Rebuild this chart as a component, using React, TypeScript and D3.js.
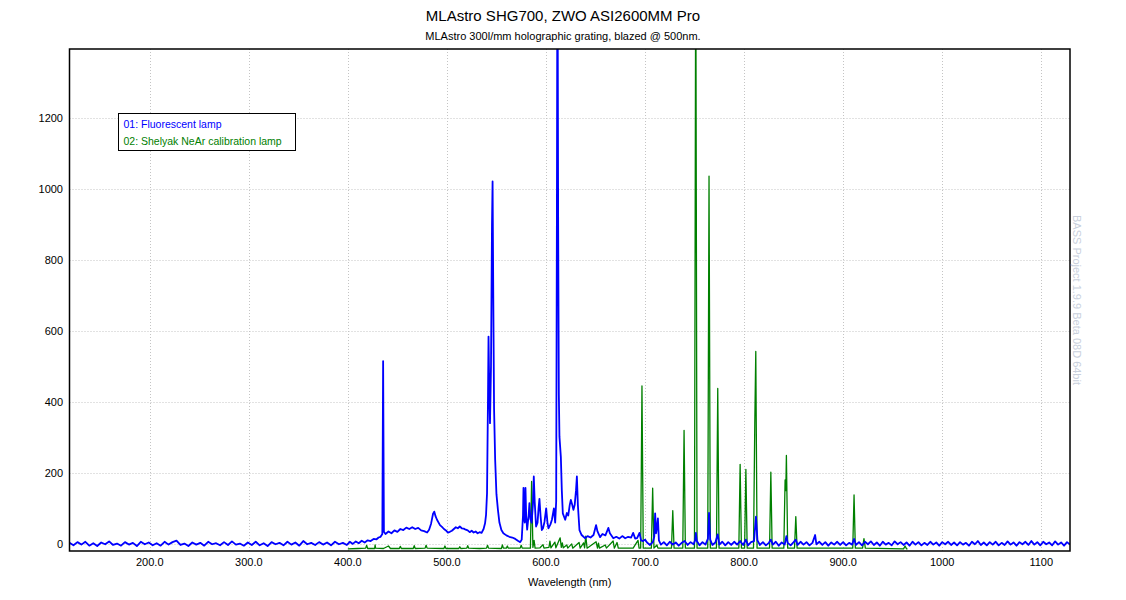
import React, { useEffect, useRef } from "react";
import * as d3 from "d3";

const chartTitle = "MLAstro SHG700, ZWO ASI2600MM Pro";
const chartSubtitle = "MLAstro 300l/mm holographic grating, blazed @ 500nm.";
const xAxisLabel = "Wavelength (nm)";
const watermarkText = "BASS Project 1.9.9 Beta 08D 64bit";
const seriesNames = ["01: Fluorescent lamp", "02: Shelyak NeAr calibration lamp"];
const seriesColors = ["#0000ff", "#008000"];

const xTicks = [200, 300, 400, 500, 600, 700, 800, 900, 1000, 1100];
const yTicks = [0, 200, 400, 600, 800, 1000, 1200];
const xDomain: [number, number] = [119, 1129];
const yDomain: [number, number] = [-20, 1394];

// 01: fluorescent lamp, [wavelength nm, intensity]
const fluorescent: [number, number][] = [
  [119, 3], [123, -4], [127, 5], [131, -2], [135, 6], [139, -5], [143, 2], [147, -6], [151, 4], [155, -1],
  [159, 7], [163, -3], [167, 1], [171, -5], [175, 5], [179, -2], [183, 3], [187, -6], [191, 6], [195, -1],
  [199, 4], [203, -4], [207, 2], [211, -5], [215, 6], [219, -2], [223, 5], [227, 9], [231, -3], [235, 1],
  [239, -6], [243, 4], [247, -2], [251, 3], [255, -5], [259, 6], [263, -1], [267, 2], [271, -4], [275, 5],
  [279, -3], [283, 7], [287, -2], [291, 1], [295, -5], [299, 4], [303, -3], [307, 6], [311, -4], [315, 2],
  [319, -6], [323, 5], [327, -1], [331, 3], [335, -4], [339, 6], [343, -2], [347, 4], [351, -5], [355, 8],
  [359, -1], [363, 3], [367, -3], [371, 5], [375, -2], [379, 4], [383, -4], [387, 6], [391, -1], [395, 3],
  [399, -3], [402, 6], [405, 0], [408, 7], [411, 2], [414, 9], [417, 4], [420, 10], [423, 8], [426, 14],
  [429, 13], [431, 18], [433, 20], [434.8, 28], [435.6, 515], [436.4, 34], [438, 28], [441, 35], [444, 30],
  [447, 38], [450, 34], [453, 42], [456, 39], [459, 46], [462, 42], [465, 47], [468, 42], [471, 45],
  [474, 38], [477, 36], [480, 32], [482, 40], [484, 57], [486, 85], [487.2, 91], [488.5, 78], [490, 68],
  [493, 53], [495, 48], [497, 42], [499, 38], [501, 32], [503, 34], [505, 37], [507, 42], [509, 47],
  [511, 44], [513, 49], [515, 44], [517, 43], [519, 40], [521, 38], [523, 33], [525, 37], [527, 32],
  [529, 35], [531, 30], [533, 33], [535, 31], [537, 42], [538.5, 58], [539.5, 82], [540.5, 143],
  [541.5, 420], [542, 584], [542.7, 450], [543.5, 340], [544.5, 500], [545.5, 900], [546.1, 1021],
  [546.8, 700], [547.6, 380], [548.7, 237], [550, 140], [551.5, 96], [553, 60], [555, 39], [557, 30],
  [560, 24], [563, 20], [566, 18], [569, 14], [572, 8], [574, 5], [575.5, 12], [576.8, 80], [577.3, 158],
  [578, 70], [578.6, 60], [579.3, 158], [580, 80], [581, 40], [582.5, 80], [583.3, 115], [584.3, 70],
  [585.5, 60], [586.8, 110], [587.7, 190], [588.6, 120], [590, 49], [591.5, 60], [592.5, 100], [593.4, 127],
  [594.5, 80], [595.8, 39], [597, 44], [598.5, 62], [600.2, 100], [601.5, 60], [602.5, 44], [604.5, 55],
  [606, 68], [608, 100], [609.3, 60], [610.3, 120], [611, 900], [611.6, 1800], [612.3, 900], [613, 420],
  [613.6, 302], [615, 246], [616, 150], [617, 86], [619.4, 68], [621.1, 87], [622.5, 80], [624, 110],
  [625.1, 124], [626.5, 110], [627.7, 96], [629, 110], [630.3, 150], [631.2, 190], [632.2, 110],
  [633.8, 39], [636, 25], [639.4, 16], [642, 22], [645, 18], [648, 25], [650.6, 53], [652, 35],
  [654.6, 19], [657, 28], [660, 24], [663, 45], [664.5, 30], [668, 16], [671, 20], [674, 15], [677, 22],
  [680, 16], [683, 20], [686, 18], [688, 31], [690, 15], [692, 16], [694.4, 31], [696, 10], [698, 8],
  [700, 12], [702, 4], [705, -3], [708, 6], [709.3, 20], [710.2, 86], [711.2, 30], [712.2, 50], [713, 72],
  [714, 10], [716, -2], [719, 5], [722, -4], [725, 6], [728, -2], [731, 4], [734, -5], [737, 3], [740, 8],
  [743, -3], [746, 5], [749, -1], [750.5, 10], [751.3, 31], [752.3, 8], [755, -4], [758, 5], [761, -2],
  [763.5, 15], [764.6, 87], [765.8, 12], [768, -3], [771, 4], [773.4, 27], [775, -2], [778, 6], [781, -4],
  [784, 5], [787, -3], [790, 6], [793, -2], [796, 8], [799, -3], [801.8, 12], [804, -4], [807, 5],
  [810, 8], [812, 77], [813.5, 10], [816, -3], [819, 5], [822, -4], [825, 3], [827, 12], [829, -2],
  [832, 6], [835, -5], [838, 4], [841, -2], [842.7, 22], [844, 3], [847, -4], [850, 5], [852.2, 12],
  [854, -3], [857, 6], [860, -2], [863, 5], [866, -4], [869, 3], [871.7, 25], [873, -1], [876, 6],
  [879, -3], [882, 5], [885, -5], [888, 4], [891, -2], [894, 6], [897, -3], [900, 5], [903, -4], [906, 3],
  [909, -2], [911, 14], [913, -3], [916, 5], [919, -4], [922, 6], [925, -1], [928, 7], [931, -3], [934, 4],
  [937, -5], [940, 6], [943, -2], [946, 3], [949, -4], [952, 7], [955, -1], [958, 5], [961, -3], [964, 4],
  [967, -5], [970, 6], [973, -2], [976, 5], [979, -4], [982, 3], [985, -3], [988, 6], [991, -2], [994, 4],
  [997, -5], [1000, 5], [1003, -1], [1006, 6], [1009, -3], [1012, 4], [1015, -4], [1018, 5], [1021, -2],
  [1024, 3], [1027, -5], [1030, 6], [1033, -1], [1036, 8], [1039, -3], [1042, 4], [1045, -4], [1048, 5],
  [1051, -2], [1054, 6], [1057, -4], [1060, 3], [1063, -3], [1066, 7], [1069, -2], [1072, 4], [1075, -5],
  [1078, 5], [1081, -1], [1084, 6], [1087, -3], [1090, 8], [1093, -2], [1096, 5], [1099, -4], [1102, 6],
  [1105, -1], [1108, 4], [1111, -4], [1114, 7], [1117, -2], [1120, 4], [1123, -5], [1126, 5], [1129, -2],
];

// 02: Shelyak NeAr calibration lamp, [wavelength nm, intensity]
const neAr: [number, number][] = [
  [400, -14], [410, -13], [418, -12], [419, -4], [420, -13], [427, -13], [427.5, -3], [428, -12],
  [436, -13], [441, -6], [443, -13], [452, -13], [453, -7], [454, -13], [466, -13], [467, -5], [468, -13],
  [478, -12], [479, -4], [480, -12], [497, -13], [498, -6], [499, -13], [512, -13], [513, -8], [514, -13],
  [520, -12], [521, -5], [522, -12], [533, -13], [540, -12], [541, -4], [542, -12], [555, -13], [556, -3],
  [557, -12], [560, -12], [561, -6], [562, -12], [574, -12], [575, -4], [576, -12], [584.3, -12],
  [585.5, 176], [586.8, -10], [588, 10], [589, -12], [594, -11], [597, -2], [598, -12], [603, -10],
  [604, 8], [605, -11], [609, 5], [610, -11], [614.3, 17], [615.5, -10], [616.5, 3], [617.5, -11],
  [621, -3], [622, -12], [626, 0], [627, -12], [633.4, 4], [634.5, -12], [638, 3], [639, -11], [640.2, 22],
  [641.5, -12], [650.6, 6], [652, -12], [653, 2], [654, -12], [659.9, -3], [661, -12], [667.8, 8],
  [669, -12], [671.7, 4], [673, -12], [688, -12], [692.9, 10], [694, -12], [695.6, -12], [696.9, 445],
  [698.2, -12], [706.4, -12], [707.7, 157], [709, -12], [712, -3], [713, -12], [726.7, -12], [728, 94],
  [729.3, -12], [738.1, -12], [739.4, 320], [740.7, -12], [749.9, -12], [751.2, 1700], [752.5, -12],
  [763.3, -12], [764.6, 1036], [765.9, -12], [772.1, -12], [773.4, 438], [774.7, -12], [794.7, -12],
  [796, 224], [797.3, -12], [800.5, -12], [801.8, 210], [803.1, -12], [809.5, -12], [810.8, 340],
  [811.8, 542], [813.1, -12], [825.7, -12], [827, 202], [828.3, -12], [840.1, -12], [841.4, 180],
  [842.1, 150], [842.7, 249], [844, -12], [850.9, -12], [852.2, 77], [853.5, -12], [909.7, -12],
  [911, 138], [912.3, -12], [919.6, -12], [921, 15], [922.4, -12], [961, -14], [962.5, -6], [964, -14],
  [965, -14],
];

const width = 1126;
const height = 600;
const margin = { top: 49, right: 56, bottom: 49, left: 69.5 };

const App: React.FC = () => {
  const svgRef = useRef<SVGSVGElement | null>(null);

  useEffect(() => {
    if (!svgRef.current) return;
    const svg = d3.select(svgRef.current);
    svg.selectAll("*").remove();

    const font = "Arial, 'Liberation Sans', sans-serif";
    const x0 = margin.left;
    const x1 = width - margin.right;
    const y0 = margin.top;
    const y1 = height - margin.bottom;

    const xScale = d3.scaleLinear().domain(xDomain).range([x0, x1]);
    const yScale = d3.scaleLinear().domain(yDomain).range([y1, y0]);

    svg.append("rect").attr("width", width).attr("height", height).attr("fill", "#ffffff");

    // titles
    svg
      .append("text")
      .attr("x", width / 2)
      .attr("y", 21)
      .attr("text-anchor", "middle")
      .style("font-family", font)
      .style("font-size", "15px")
      .attr("fill", "#000")
      .text(chartTitle);

    svg
      .append("text")
      .attr("x", width / 2)
      .attr("y", 40)
      .attr("text-anchor", "middle")
      .style("font-family", font)
      .style("font-size", "11px")
      .attr("fill", "#000")
      .text(chartSubtitle);

    // grid
    const grid = svg.append("g");
    grid
      .selectAll("line.vx")
      .data(xTicks)
      .enter()
      .append("line")
      .attr("x1", (d) => Math.round(xScale(d)) + 0.5)
      .attr("x2", (d) => Math.round(xScale(d)) + 0.5)
      .attr("y1", y0)
      .attr("y2", y1)
      .attr("stroke", "#c4c4c4")
      .attr("stroke-dasharray", "1,2");
    grid
      .selectAll("line.hy")
      .data(yTicks)
      .enter()
      .append("line")
      .attr("x1", x0)
      .attr("x2", x1)
      .attr("y1", (d) => Math.round(yScale(d)) + 0.5)
      .attr("y2", (d) => Math.round(yScale(d)) + 0.5)
      .attr("stroke", "#c4c4c4")
      .attr("stroke-dasharray", "1,2");

    // tick labels
    svg
      .append("g")
      .selectAll("text")
      .data(xTicks)
      .enter()
      .append("text")
      .attr("x", (d) => xScale(d))
      .attr("y", 566)
      .attr("text-anchor", "middle")
      .style("font-family", font)
      .style("font-size", "11px")
      .attr("fill", "#000")
      .text((d) => (d >= 1000 ? String(d) : d.toFixed(1)));

    svg
      .append("g")
      .selectAll("text")
      .data(yTicks)
      .enter()
      .append("text")
      .attr("x", 63)
      .attr("y", (d) => yScale(d) + 4)
      .attr("text-anchor", "end")
      .style("font-family", font)
      .style("font-size", "11px")
      .attr("fill", "#000")
      .text((d) => String(d));

    svg
      .append("text")
      .attr("x", (x0 + x1) / 2)
      .attr("y", 586)
      .attr("text-anchor", "middle")
      .style("font-family", font)
      .style("font-size", "11px")
      .attr("fill", "#000")
      .text(xAxisLabel);

    // spectra
    svg
      .append("clipPath")
      .attr("id", "plot-clip")
      .append("rect")
      .attr("x", x0)
      .attr("y", y0)
      .attr("width", x1 - x0)
      .attr("height", y1 - y0);

    const line = d3
      .line<[number, number]>()
      .x((d) => xScale(d[0]))
      .y((d) => yScale(d[1]));

    const plot = svg.append("g").attr("clip-path", "url(#plot-clip)");
    plot
      .append("path")
      .datum(neAr)
      .attr("d", line)
      .attr("fill", "none")
      .attr("stroke", seriesColors[1])
      .attr("stroke-width", 1.3)
      .attr("stroke-linejoin", "round");
    plot
      .append("path")
      .datum(fluorescent)
      .attr("d", line)
      .attr("fill", "none")
      .attr("stroke", seriesColors[0])
      .attr("stroke-width", 1.8)
      .attr("stroke-linejoin", "round");

    // frame
    svg
      .append("rect")
      .attr("x", x0)
      .attr("y", y0)
      .attr("width", x1 - x0)
      .attr("height", y1 - y0)
      .attr("fill", "none")
      .attr("stroke", "#000")
      .attr("stroke-width", 1.5);

    // legend
    const legend = svg.append("g").attr("transform", "translate(118.5,113.5)");
    legend
      .append("rect")
      .attr("width", 177)
      .attr("height", 37)
      .attr("fill", "#fff")
      .attr("stroke", "#000");
    legend
      .selectAll("text")
      .data(seriesNames)
      .enter()
      .append("text")
      .attr("x", 5)
      .attr("y", (_, i) => 14 + i * 17)
      .style("font-family", font)
      .style("font-size", "10.5px")
      .attr("fill", (_, i) => seriesColors[i])
      .text((d) => d);

    // watermark
    svg
      .append("text")
      .attr("transform", "translate(1073,215) rotate(90)")
      .style("font-family", font)
      .style("font-size", "11px")
      .attr("fill", "#c9d0dc")
      .text(watermarkText);
  }, []);

  return (
    <svg
      ref={svgRef}
      width={width}
      height={height}
      style={{ position: "absolute", left: 0, top: 0 }}
    ></svg>
  );
};

export default App;
